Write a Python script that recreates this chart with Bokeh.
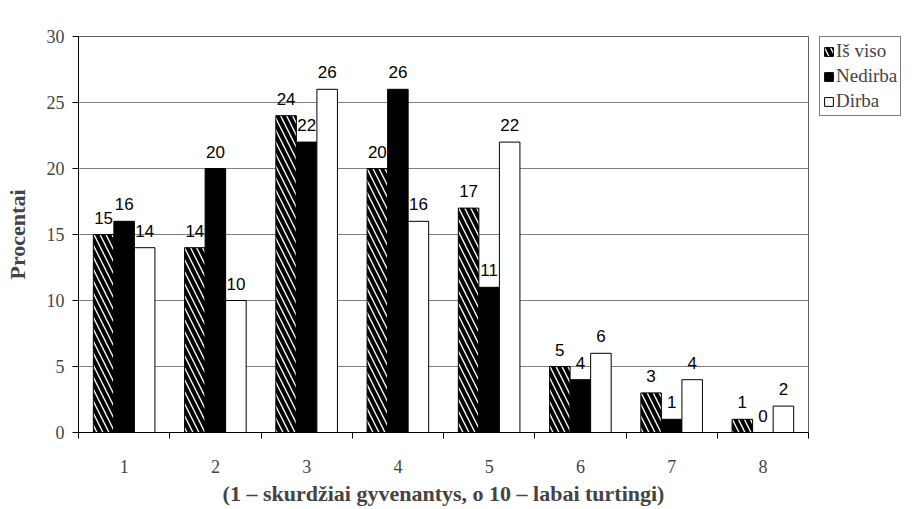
from bokeh.plotting import figure
from bokeh.layouts import row
from bokeh.models import Range1d, FixedTicker, Legend, LegendItem, ColumnDataSource
from bokeh.core.properties import value
from bokeh.embed import file_html
from bokeh.resources import INLINE

categories = [1, 2, 3, 4, 5, 6, 7, 8]
is_viso = [15, 14, 24, 20, 17, 5, 3, 1]
nedirba = [16, 20, 22, 26, 11, 4, 1, 0]
dirba = [14, 10, 26, 16, 22, 6, 4, 2]
series_names = ["Iš viso", "Nedirba", "Dirba"]
y_ticks = [0, 5, 10, 15, 20, 25, 30]

SERIF = "Liberation Serif"
SANS = "Liberation Sans"

p = figure(width=812, height=509, x_range=Range1d(0.5, 8.5), y_range=Range1d(0, 30),
           output_backend="svg", toolbar_location=None,
           min_border_left=78, min_border_right=4, min_border_top=25, min_border_bottom=77)
p.background_fill_color = "white"
p.border_fill_color = "white"
p.outline_line_color = "#606060"
p.outline_line_width = 1

bw = 0.225
offsets = [-bw, 0.0, bw]
styles = [
    dict(fill_color="white", hatch_pattern="left_diagonal_line", hatch_color="black",
         hatch_scale=12, hatch_weight=4),
    dict(fill_color="black"),
    dict(fill_color="white"),
]
sources = []
for vals, off, st in zip([is_viso, nedirba, dirba], offsets, styles):
    src = ColumnDataSource(dict(x=[c + off for c in categories], top=vals,
                                lab=[str(v) for v in vals]))
    sources.append(src)
    p.vbar(x="x", top="top", width=bw, source=src, line_color="black", line_width=1, **st)
    p.text(x="x", y="top", text="lab", source=src, text_align="center",
           text_baseline="alphabetic", y_offset=-17, text_font=value(SANS),
           text_font_size="17px", text_color="black")

# axes
p.xgrid.visible = False
p.ygrid.grid_line_color = "#808080"
p.ygrid.grid_line_width = 1
p.yaxis.ticker = FixedTicker(ticks=y_ticks)
p.yaxis.minor_tick_line_color = None
p.yaxis.major_tick_out = 6
p.yaxis.major_tick_in = 0
p.yaxis.major_label_standoff = 8
p.yaxis.major_label_text_font = SERIF
p.yaxis.major_label_text_font_size = "18px"
p.yaxis.axis_line_color = "black"
p.yaxis.axis_label = "Procentai"
p.yaxis.axis_label_text_font = SERIF
p.yaxis.axis_label_text_font_style = "bold"
p.yaxis.axis_label_text_font_size = "22px"
p.yaxis.axis_label_standoff = 14

p.xaxis.ticker = FixedTicker(ticks=categories, minor_ticks=[c - 0.5 for c in categories] + [8.5])
p.xaxis.major_tick_line_color = None
p.xaxis.major_tick_out = 0
p.xaxis.major_tick_in = 0
p.xaxis.minor_tick_line_color = "black"
p.xaxis.minor_tick_out = 6
p.xaxis.minor_tick_in = 0
p.xaxis.major_label_standoff = 21
p.xaxis.major_label_text_font = SERIF
p.xaxis.major_label_text_font_size = "18px"
p.xaxis.axis_line_color = "black"
p.xaxis.axis_label = "(1 – skurdžiai gyvenantys, o 10 – labai turtingi)"
p.xaxis.axis_label_text_font = SERIF
p.xaxis.axis_label_text_font_style = "bold"
p.xaxis.axis_label_text_font_size = "22px"
p.xaxis.axis_label_standoff = 5

# legend panel to the right of the plot area (its proxy bars lie outside its view)
lp = figure(width=106, height=509, x_range=Range1d(-3, -2), y_range=Range1d(0, 1),
            output_backend="svg", toolbar_location=None,
            min_border_left=7, min_border_right=0, min_border_top=36, min_border_bottom=0)
lp.axis.visible = False
lp.grid.visible = False
lp.outline_line_color = None
lp.border_fill_color = "white"
leg_renderers = []
for src, st in zip(sources, styles):
    leg_renderers.append(lp.vbar(x="x", top="top", width=bw, source=src,
                                 line_color="black", line_width=1, **st))

legend = Legend(items=[LegendItem(label=n, renderers=[r]) for n, r in zip(series_names, leg_renderers)],
                location="top_left", margin=0, padding=3, spacing=3,
                glyph_width=11, glyph_height=11, label_standoff=2, label_height=20,
                label_text_font=SERIF, label_text_font_size="19px",
                border_line_color="black", border_line_width=1,
                background_fill_color="white", background_fill_alpha=1)
lp.add_layout(legend, "center")

layout = row(p, lp, spacing=0)
open("out.html", "w").write(file_html(layout, INLINE))
